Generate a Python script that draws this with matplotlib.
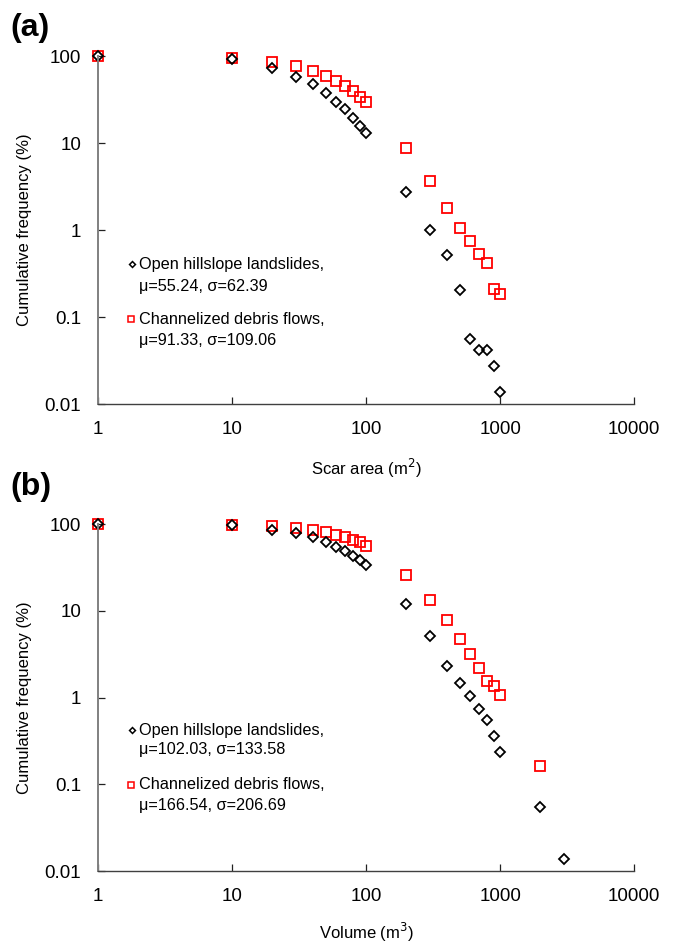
import numpy as np
import matplotlib.pyplot as plt
from matplotlib.ticker import FixedLocator, FixedFormatter

plt.rcParams['font.family'] = ['Liberation Sans', 'DejaVu Sans']

# (a) cumulative frequency against scar area
area = [1, 10, 20, 30, 40, 50, 60, 70, 80, 90, 100,
        200, 300, 400, 500, 600, 700, 800, 900, 1000]
area_open = [100, 92.4, 73.4, 57.8, 47.3, 37.3, 29.8, 24.8, 19.2, 15.8, 12.9,
             2.71, 1.01, 0.52, 0.206, 0.0554, 0.0414, 0.0414, 0.0275, 0.0137]
area_chan = [100, 95.6, 86.0, 76.7, 67.8, 59.4, 51.2, 45.6, 39.6, 34.1, 29.4,
             8.69, 3.66, 1.80, 1.05, 0.741, 0.534, 0.421, 0.210, 0.185]

# (b) cumulative frequency against volume
vol_open_x = [1, 10, 20, 30, 40, 50, 60, 70, 80, 90, 100,
              200, 300, 400, 500, 600, 700, 800, 900, 1000, 2000, 3000]
vol_open = [100, 97.5, 85, 78, 70, 62, 55, 49, 43, 38, 33.7,
            11.9, 5.08, 2.33, 1.46, 1.04, 0.733, 0.552, 0.358, 0.236, 0.0553, 0.0137]
vol_chan_x = [1, 10, 20, 30, 40, 50, 60, 70, 80, 90, 100,
              200, 300, 400, 500, 600, 700, 800, 900, 1000, 2000]
vol_chan = [100, 98, 95, 90, 84.5, 80, 75, 70, 66, 61.5, 55.8,
            25.8, 13.3, 7.83, 4.77, 3.15, 2.19, 1.54, 1.36, 1.06, 0.163]

x_ticks = [1, 10, 100, 1000, 10000]
x_labels = ['1', '10', '100', '1000', '10000']
y_ticks = [0.01, 0.1, 1, 10, 100]
y_labels = ['0.01', '0.1', '1', '10', '100']

open_lbl = 'Open hillslope landslides,'
chan_lbl = 'Channelized debris flows,'
stats_a = ['\u03bc=55.24, \u03c3=62.39', '\u03bc=91.33, \u03c3=109.06']
stats_b = ['\u03bc=102.03, \u03c3=133.58', '\u03bc=166.54, \u03c3=206.69']

fig = plt.figure(figsize=(6.76, 9.44), dpi=100)
ax1 = fig.add_axes([0.145, 0.572, 0.793, 0.3686])
ax2 = fig.add_axes([0.145, 0.0773, 0.793, 0.3676])


def style_axes(ax, xlabel, xlab_y):
    ax.set_xscale('log')
    ax.set_yscale('log')
    ax.set_xlim(1, 10000)
    ax.set_ylim(0.01, 100)
    ax.xaxis.set_major_locator(FixedLocator(x_ticks))
    ax.xaxis.set_major_formatter(FixedFormatter(x_labels))
    ax.yaxis.set_major_locator(FixedLocator(y_ticks))
    ax.yaxis.set_major_formatter(FixedFormatter(y_labels))
    ax.minorticks_off()
    ax.tick_params(direction='in', length=5, width=0.9, pad=12,
                   labelsize=13.5, colors='#222222', labelcolor='black')
    ax.spines['top'].set_visible(False)
    ax.spines['right'].set_visible(False)
    ax.spines['left'].set_color('#808080')
    ax.spines['left'].set_linewidth(1.4)
    ax.spines['bottom'].set_color('#404040')
    ax.spines['bottom'].set_linewidth(1.0)
    ax.set_xlabel(xlabel, fontsize=12)
    ax.set_ylabel('Cumulative frequency (%)', fontsize=12)
    ax.xaxis.set_label_coords(0.5, xlab_y)
    ax.yaxis.set_label_coords(-0.123, 0.5)


def draw_key(ax, y1, y2, y3, y4, stats):
    # hand-placed legend: small marker beside a two-line label
    ax.plot([0.063], [y1], marker='D', ms=3.0, mfc='white', mec='black',
            mew=1.1, transform=ax.transAxes, clip_on=False)
    ax.text(0.077, y1, open_lbl, transform=ax.transAxes, va='center', fontsize=11.7)
    ax.text(0.077, y2, stats[0], transform=ax.transAxes, va='center', fontsize=11.7)
    ax.plot([0.061], [y3], marker='s', ms=5.0, mfc='white', mec='red',
            mew=1.1, transform=ax.transAxes, clip_on=False)
    ax.text(0.077, y3, chan_lbl, transform=ax.transAxes, va='center', fontsize=11.7)
    ax.text(0.077, y4, stats[1], transform=ax.transAxes, va='center', fontsize=11.7)


ax1.plot(area, area_chan, 's', ms=6.5, mfc='none', mec='red', mew=1.3, clip_on=False)
ax1.plot(area, area_open, 'D', ms=4.6, mfc='none', mec='black', mew=1.3, clip_on=False)
style_axes(ax1, 'Scar area (m$^2$)', -0.153)
draw_key(ax1, 0.402, 0.339, 0.244, 0.182, stats_a)

ax2.plot(vol_chan_x, vol_chan, 's', ms=6.5, mfc='none', mec='red', mew=1.3, clip_on=False)
ax2.plot(vol_open_x, vol_open, 'D', ms=4.6, mfc='none', mec='black', mew=1.3, clip_on=False)
style_axes(ax2, 'Volume (m$^3$)', -0.145)
draw_key(ax2, 0.406, 0.351, 0.248, 0.190, stats_b)

fig.text(0.016, 0.970, '(a)', fontsize=23, fontweight='bold', va='center')
fig.text(0.016, 0.484, '(b)', fontsize=23, fontweight='bold', va='center')

fig.savefig('out.png', dpi=100)
